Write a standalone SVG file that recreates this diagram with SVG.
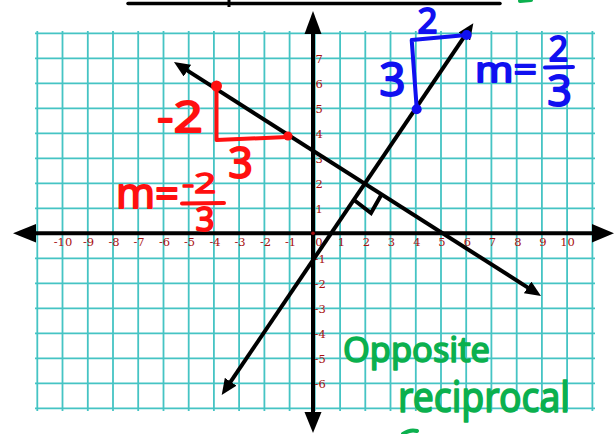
<svg xmlns="http://www.w3.org/2000/svg" width="614" height="434" viewBox="0 0 614 434">
  <defs>
    <style>
      .grid { stroke: #45c4c4; stroke-width: 1.8; fill: none; }
      .axis { stroke: #000; stroke-width: 4; fill: none; }
      .lbl { font-family: "DejaVu Serif", "Liberation Serif", serif; font-size: 11.5px; fill: #a81010; }
      .lx { text-anchor: middle; }
      .ly { text-anchor: start; }
      .ln { stroke: #000; stroke-width: 4; fill: none; marker-start: url(#ah); marker-end: url(#ah); }
      .hand { font-family: "Noto Sans", "DejaVu Sans", sans-serif; font-weight: normal; stroke-linejoin: round; }
      .red { fill: #ff1010; stroke: #ff1010; }
      .blue { fill: #1010f0; stroke: #1010f0; }
      .green { fill: #0bb04e; stroke: #0bb04e; }
      .pen { fill: none; stroke-width: 4; stroke-linecap: round; stroke-linejoin: round; }
    </style>
    <marker id="ah" markerUnits="userSpaceOnUse" viewBox="0 0 16 14" markerWidth="16" markerHeight="14" refX="6" refY="7" orient="auto-start-reverse">
      <path d="M0,0 L16,7 L0,14 z" fill="#000"/>
    </marker>
  </defs>

  <rect width="614" height="434" fill="#fff"/>

  <!-- top stray line -->
  <path d="M128,3.5 L500,3.5" stroke="#000" stroke-width="3.5" stroke-linecap="round"/>
  <path d="M229,0 L229,7" stroke="#000" stroke-width="3"/>
  <path d="M520,1 L531,0" class="green pen" stroke-width="3"/>

  <!-- grid -->
  <g id="grid">
    <path class="grid" d="
      M37.3,31 V411 M62.5,31 V411 M87.8,31 V411 M113,31 V411 M138.2,31 V411 M163.5,31 V411
      M188.7,31 V411 M213.9,31 V411 M239.1,31 V411 M264.4,31 V411 M289.6,31 V411 M314.8,31 V411
      M340.1,31 V411 M365.3,31 V411 M390.5,31 V411 M415.8,31 V411 M441,31 V411 M466.2,31 V411
      M491.4,31 V411 M516.7,31 V411 M541.9,31 V411 M567.1,31 V411 M592.4,31 V411
      M35,33.3 H595 M35,58.3 H595 M35,83.3 H595 M35,108.3 H595 M35,133.3 H595 M35,158.3 H595
      M35,183.3 H595 M35,208.3 H595 M35,233.3 H595 M35,258.3 H595 M35,283.3 H595 M35,308.3 H595
      M35,333.3 H595 M35,358.3 H595 M35,383.3 H595 M35,408.3 H595"/>
  </g>

  <!-- axes -->
  <g id="axes">
    <path class="axis" d="M30,233.3 H598"/>
    <polygon points="13,233.3 36,224 36,242.6" fill="#000"/>
    <polygon points="614,233.3 592,224 592,242.6" fill="#000"/>
    <path class="axis" d="M313,30 V415"/>
    <polygon points="313,11 304.5,34 321.5,34" fill="#000"/>
    <polygon points="313,433 304.5,412 321.5,412" fill="#000"/>
    <circle cx="313" cy="233.3" r="1.8" fill="#a81010"/>
  </g>

  <!-- axis labels -->
  <g id="axis-labels" class="lbl">
    <text class="lx" x="63" y="246">-10</text>
    <text class="lx" x="88.5" y="246">-9</text>
    <text class="lx" x="114" y="246">-8</text>
    <text class="lx" x="139" y="246">-7</text>
    <text class="lx" x="164.5" y="246">-6</text>
    <text class="lx" x="189.5" y="246">-5</text>
    <text class="lx" x="215" y="246">-4</text>
    <text class="lx" x="240" y="246">-3</text>
    <text class="lx" x="265.5" y="246">-2</text>
    <text class="lx" x="290.5" y="246">-1</text>
    <text class="lx" x="319" y="246">0</text>
    <text class="lx" x="341.5" y="246">1</text>
    <text class="lx" x="366.5" y="246">2</text>
    <text class="lx" x="391.5" y="246">3</text>
    <text class="lx" x="417" y="246">4</text>
    <text class="lx" x="442" y="246">5</text>
    <text class="lx" x="467.5" y="246">6</text>
    <text class="lx" x="492.5" y="246">7</text>
    <text class="lx" x="518" y="246">8</text>
    <text class="lx" x="543" y="246">9</text>
    <text class="lx" x="567.5" y="246">10</text>
    <text class="ly" x="315.5" y="63">7</text>
    <text class="ly" x="315.5" y="88">6</text>
    <text class="ly" x="315.5" y="113">5</text>
    <text class="ly" x="315.5" y="138">4</text>
    <text class="ly" x="315.5" y="163">3</text>
    <text class="ly" x="315.5" y="188">2</text>
    <text class="ly" x="315.5" y="213">1</text>
    <text class="ly" x="314.5" y="263">-1</text>
    <text class="ly" x="314.5" y="288">-2</text>
    <text class="ly" x="314.5" y="313">-3</text>
    <text class="ly" x="314.5" y="338">-4</text>
    <text class="ly" x="314.5" y="363">-5</text>
    <text class="ly" x="314.5" y="388">-6</text>
  </g>

  <!-- lines -->
  <g id="connectors">
    <path id="line-pos" class="ln" d="M227.3,386.7 L467.7,31.6"/>
    <path id="line-neg" class="ln" d="M182.4,67.4 L532.6,290.6"/>
    <path id="right-angle" d="M354,200 L371,213 L381.5,194.5" stroke="#000" stroke-width="4" fill="none" stroke-linejoin="miter"/>
  </g>

  <!-- red slope triangle -->
  <g id="red-triangle">
    <path class="red pen" d="M216.5,88 L216.5,140 L287,137"/>
    <circle cx="216.5" cy="86" r="5.5" fill="#ff1010"/>
    <circle cx="288" cy="136" r="4.5" fill="#ff1010"/>
    <text class="hand red" x="157" y="132" font-size="44" stroke-width="1.8" textLength="46" lengthAdjust="spacingAndGlyphs">-2</text>
    <text class="hand red" x="240.5" y="178" font-size="43" stroke-width="1.8" text-anchor="middle">3</text>
  </g>

  <g id="red-slope">
    <text class="hand red" x="116" y="208" font-size="42" stroke-width="1.8" textLength="63" lengthAdjust="spacingAndGlyphs">m=</text>
    <text class="hand red" x="182" y="193" font-size="27" stroke-width="1.4" textLength="34" lengthAdjust="spacingAndGlyphs">-2</text>
    <path class="red pen" d="M182,203.5 L224,203"/>
    <text class="hand red" x="205" y="231" font-size="33" stroke-width="1.8" text-anchor="middle">3</text>
  </g>

  <!-- blue slope triangle -->
  <g id="blue-triangle">
    <path class="blue pen" d="M416.7,108 L411.7,40 L466.5,35"/>
    <circle cx="416.7" cy="109.3" r="5" fill="#1010f0"/>
    <circle cx="466.7" cy="35" r="5" fill="#1010f0"/>
    <text class="hand blue" x="427.5" y="33" font-size="35" stroke-width="1.8" text-anchor="middle">2</text>
    <text class="hand blue" x="392.5" y="96" font-size="46" stroke-width="1.8" text-anchor="middle">3</text>
  </g>

  <g id="blue-slope">
    <text class="hand blue" x="475" y="82" font-size="34" stroke-width="1.8" textLength="62" lengthAdjust="spacingAndGlyphs">m=</text>
    <text class="hand blue" x="558.5" y="61" font-size="34" stroke-width="1.8" text-anchor="middle">2</text>
    <path class="blue pen" d="M545,67.5 L573,67"/>
    <text class="hand blue" x="559.5" y="106" font-size="43" stroke-width="1.8" text-anchor="middle">3</text>
  </g>

  <!-- green note -->
  <g id="green-note">
    <text class="hand green" x="343" y="362" font-size="35" stroke-width="1.6" textLength="147" lengthAdjust="spacingAndGlyphs">Opposite</text>
    <text class="hand green" x="398" y="412" font-size="42" stroke-width="1.6" textLength="172" lengthAdjust="spacingAndGlyphs">reciprocal</text>
    <path class="green pen" d="M403,434 Q410,429 417,431" stroke-width="3"/>
  </g>
</svg>
